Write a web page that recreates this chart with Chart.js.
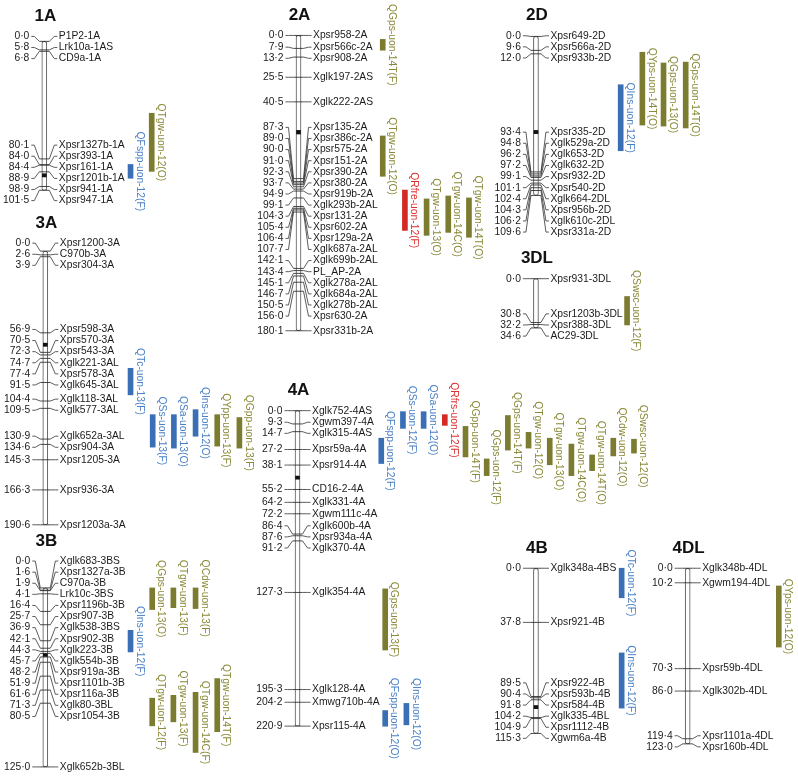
<!DOCTYPE html>
<html>
<head>
<meta charset="utf-8">
<script src="https://cdn.jsdelivr.net/npm/chart.js@4.4.0/dist/chart.umd.min.js"></script>
<style>
html, body { margin: 0; padding: 0; background: #fff; }
canvas { display: block; }
</style>
</head>
<body>
<canvas id="map" width="798" height="778"></canvas>
<script>
// marker positions (cM) and names for each linkage group
var pos1A = [0.0, 5.8, 6.8, 80.1, 84.0, 84.4, 88.9, 98.9, 101.5]
var mk1A = ['P1P2-1A', 'Lrk10a-1AS', 'CD9a-1A', 'Xpsr1327b-1A', 'Xpsr393-1A', 'Xpsr161-1A', 'Xpsr1201b-1A', 'Xpsr941-1A', 'Xpsr947-1A']

var pos2A = [0.0, 7.9, 13.2, 25.5, 40.5, 87.3, 89.0, 90.0, 91.0, 92.3, 93.7, 94.9, 99.1, 104.3, 105.4, 106.4, 107.7, 142.1, 143.4, 145.1, 146.7, 150.5, 156.0, 180.1]
var mk2A = ['Xpsr958-2A', 'Xpsr566c-2A', 'Xpsr908-2A', 'Xglk197-2AS', 'Xglk222-2AS', 'Xpsr135-2A', 'Xpsr386c-2A', 'Xpsr575-2A', 'Xpsr151-2A', 'Xpsr390-2A', 'Xpsr380-2A', 'Xpsr919b-2A', 'Xglk293b-2AL', 'Xpsr131-2A', 'Xpsr602-2A', 'Xpsr129a-2A', 'Xglk687a-2AL', 'Xglk699b-2AL', 'PL_AP-2A', 'Xglk278a-2AL', 'Xglk684a-2AL', 'Xglk278b-2AL', 'Xpsr630-2A', 'Xpsr331b-2A']

var pos2D = [0.0, 9.6, 12.0, 93.4, 94.8, 96.2, 97.2, 99.1, 101.1, 102.4, 104.3, 106.2, 109.6]
var mk2D = ['Xpsr649-2D', 'Xpsr566a-2D', 'Xpsr933b-2D', 'Xpsr335-2D', 'Xglk529a-2D', 'Xglk653-2D', 'Xglk632-2D', 'Xpsr932-2D', 'Xpsr540-2D', 'Xglk664-2DL', 'Xpsr956b-2D', 'Xglk610c-2DL', 'Xpsr331a-2D']

var pos3A = [0.0, 2.6, 3.9, 56.9, 70.5, 72.3, 74.7, 77.4, 91.5, 104.4, 109.5, 130.9, 134.6, 145.3, 166.3, 190.6]
var mk3A = ['Xpsr1200-3A', 'C970b-3A', 'Xpsr304-3A', 'Xpsr598-3A', 'Xprs570-3A', 'Xpsr543-3A', 'Xglk221-3AL', 'Xpsr578-3A', 'Xglk645-3AL', 'Xglk118-3AL', 'Xglk577-3AL', 'Xglk652a-3AL', 'Xpsr904-3A', 'Xpsr1205-3A', 'Xpsr936-3A', 'Xpsr1203a-3A']

var pos3DL = [0.0, 30.8, 32.2, 34.6]
var mk3DL = ['Xpsr931-3DL', 'Xpsr1203b-3DL', 'Xpsr388-3DL', 'AC29-3DL']

var pos3B = [0.0, 1.6, 1.9, 4.1, 16.4, 25.7, 36.9, 42.1, 44.3, 45.7, 48.2, 51.9, 61.6, 71.3, 80.5, 125.0]
var mk3B = ['Xglk683-3BS', 'Xpsr1327a-3B', 'C970a-3B', 'Lrk10c-3BS', 'Xpsr1196b-3B', 'Xpsr907-3B', 'Xglk538-3BS', 'Xpsr902-3B', 'Xglk223-3B', 'Xglk554b-3B', 'Xpsr919a-3B', 'Xpsr1101b-3B', 'Xpsr116a-3B', 'Xglk80-3BL', 'Xpsr1054-3B', 'Xglk652b-3BL']

var pos4A = [0.0, 9.3, 14.7, 27.2, 38.1, 55.2, 64.2, 72.2, 86.4, 87.6, 91.2, 127.3, 195.3, 204.2, 220.9]
var mk4A = ['Xglk752-4AS', 'Xgwm397-4A', 'Xglk315-4AS', 'Xpsr59a-4A', 'Xpsr914-4A', 'CD16-2-4A', 'Xglk331-4A', 'Xgwm111c-4A', 'Xglk600b-4A', 'Xpsr934a-4A', 'Xglk370-4A', 'Xglk354-4A', 'Xglk128-4A', 'Xmwg710b-4A', 'Xpsr115-4A']

var pos4B = [0.0, 37.8, 89.5, 90.4, 91.8, 104.2, 104.9, 115.3]
var mk4B = ['Xglk348a-4BS', 'Xpsr921-4B', 'Xpsr922-4B', 'Xpsr593b-4B', 'Xpsr584-4B', 'Xglk335-4BL', 'Xpsr1112-4B', 'Xgwm6a-4B']

var pos4DL = [0.0, 10.2, 70.3, 86.0, 119.4, 123.0]
var mk4DL = ['Xglk348b-4DL', 'Xgwm194-4DL', 'Xpsr59b-4DL', 'Xglk302b-4DL', 'Xpsr1101a-4DL', 'Xpsr160b-4DL']

// centromere marks (cM)
var cen1A = [91.3], cen2A = [59.0], cen2D = [65.9], cen3A = [65.2], cen3DL = []
var cen3B = [46.8], cen4A = [46.9], cen4B = [96.9], cen4DL = []

// QTL intervals
var qtlName = ['QFspp-uon-12(F)', 'QTgw-uon-12(O)',
  'QGps-uon-14T(F)', 'QTgw-uon-12(O)', 'QRfre-uon-12(F)', 'QTgw-uon-13(O)', 'QTgw-uon-14C(O)', 'QTgw-uon-14T(O)',
  'QIns-uon-12(F)', 'QYps-uon-14T(O)', 'QGps-uon-13(O)', 'QGps-uon-14T(O)',
  'QSwsc-uon-12(F)',
  'QTc-uon-13(F)', 'QSs-uon-13(F)', 'QSa-uon-13(O)', 'QIns-uon-12(O)', 'QYpp-uon-13(F)', 'QGpp-uon-13(F)',
  'QGps-uon-13(O)', 'QTgw-uon-13(F)', 'QCdw-uon-13(F)', 'QIns-uon-12(F)', 'QTgw-uon-12(F)', 'QTgw-uon-13(F)', 'QTgw-uon-14C(F)', 'QTgw-uon-14T(F)',
  'QFspp-uon-12(F)', 'QSs-uon-12(F)', 'QSa-uon-12(O)', 'QRfrs-uon-12(F)', 'QGpp-uon-14T(F)', 'QGps-uon-12(F)', 'QGps-uon-14T(F)', 'QTgw-uon-12(O)', 'QTgw-uon-13(O)', 'QTgw-uon-14C(O)', 'QTgw-uon-14T(O)', 'QCdw-uon-12(O)', 'QSwsc-uon-12(O)',
  'QGps-uon-13(F)', 'QFspp-uon-12(O)', 'QIns-uon-12(O)',
  'QTc-uon-12(F)', 'QIns-uon-12(F)',
  'QYps-uon-12(O)']
var qtlChrom = ['1A', '1A',
  '2A', '2A', '2A', '2A', '2A', '2A',
  '2D', '2D', '2D', '2D',
  '3DL',
  '3A', '3A', '3A', '3A', '3A', '3A',
  '3B', '3B', '3B', '3B', '3B', '3B', '3B', '3B',
  '4A', '4A', '4A', '4A', '4A', '4A', '4A', '4A', '4A', '4A', '4A', '4A', '4A',
  '4A', '4A', '4A',
  '4B', '4B',
  '4DL']
var qtlFrom = [83.9, 49.0,
  2.4, 61.3, 94.3, 99.7, 97.9, 99.1,
  33.3, 10.9, 18.3, 17.7,
  12.5,
  81.6, 113.9, 113.9, 110.4, 113.9, 115.9,
  0.0, 0.0, 0.0, 29.6, 77.0, 75.0, 72.9, 63.3,
  19.3, 0.7, 0.7, 2.8, 11.0, 33.8, 3.4, 15.2, 19.3, 23.4, 31.0, 19.3, 20.0,
  124.8, 210.0, 205.0,
  0.0, 59.1,
  12.4]
var qtlTo = [93.3, 88.6,
  9.0, 85.9, 118.9, 121.9, 120.1, 123.1,
  78.8, 61.1, 61.8, 63.1,
  32.5,
  100.1, 136.5, 137.2, 128.9, 135.8, 137.2,
  15.1, 13.8, 14.4, 44.7, 96.3, 93.5, 114.9, 100.4,
  37.0, 12.4, 12.4, 10.3, 32.4, 45.5, 27.6, 26.2, 37.9, 45.5, 42.0, 31.7, 29.7,
  167.6, 221.0, 220.0,
  20.6, 97.6,
  55.2]
// trait group: b = blue, o = olive, r = red
var qtlKind = ['b', 'o',
  'o', 'o', 'r', 'o', 'o', 'o',
  'b', 'o', 'o', 'o',
  'o',
  'b', 'b', 'b', 'b', 'o', 'o',
  'o', 'o', 'o', 'b', 'o', 'o', 'o', 'o',
  'b', 'b', 'b', 'r', 'o', 'o', 'o', 'o', 'o', 'o', 'o', 'o', 'o',
  'o', 'b', 'b',
  'b', 'b',
  'o']

// ---- layout (page pixels) ----
// chromosome: centre x, pixel of 0 cM, pixels per cM
var chromLayout = {
  '1A': [39, 36, 1.49],
  '2A': [297, 30, 1.665],
  '2D': [538, 31, 1.473],
  '3A': [40, 249, 1.458],
  '3DL': [538, 277, 1.445],
  '3B': [40, 591, 1.454],
  '4A': [296, 411, 1.45],
  '4B': [538, 571, 1.455],
  '4DL': [692, 571, 1.45]
}
var qtlX = [126.5, 148,
  382.5, 382.5, 405, 427, 449, 470,
  624, 646, 667.5, 690,
  630.5,
  126.5, 149, 170.5, 192.5, 214.5, 237,
  148.5, 170, 192.5, 126.5, 148.5, 170, 192.5, 214.5,
  381, 403, 424, 445.5, 466.5, 488, 509.5, 530.5, 552, 574, 595, 616.5, 637.5,
  385, 385, 406.5,
  625, 625,
  784.5]

var barColor = { b: '#3a6fb5', o: '#7c7c30', r: '#d42a26' }
var textColor = { b: '#4a80c6', o: '#8a8a3a', r: '#dc3030' }

var chroms = [
  { id: '1A', pos: pos1A, mk: mk1A, cen: cen1A },
  { id: '2A', pos: pos2A, mk: mk2A, cen: cen2A },
  { id: '2D', pos: pos2D, mk: mk2D, cen: cen2D },
  { id: '3A', pos: pos3A, mk: mk3A, cen: cen3A },
  { id: '3DL', pos: pos3DL, mk: mk3DL, cen: cen3DL },
  { id: '3B', pos: pos3B, mk: mk3B, cen: cen3B },
  { id: '4A', pos: pos4A, mk: mk4A, cen: cen4A },
  { id: '4B', pos: pos4B, mk: mk4B, cen: cen4B },
  { id: '4DL', pos: pos4DL, mk: mk4DL, cen: cen4DL }
]

var H = 778
var LABEL_GAP = 11.1
var FONT = '10.3px "Liberation Sans", Arial, sans-serif'

function fmt(v) {
  return v.toFixed(1).replace('.', '\u00b7')
}

// push overlapping labels apart, keeping each cluster centred
function spread(ys, gap) {
  var g = ys.map(function (y) { return { sum: y, n: 1 } })
  var merged = true
  while (merged) {
    merged = false
    for (var i = 0; i < g.length - 1; i++) {
      var a = g[i], b = g[i + 1]
      var aBot = a.sum / a.n + (a.n - 1) * gap / 2
      var bTop = b.sum / b.n - (b.n - 1) * gap / 2
      if (bTop - aBot < gap - 0.01) {
        g.splice(i, 2, { sum: a.sum + b.sum, n: a.n + b.n })
        merged = true
        break
      }
    }
  }
  var out = []
  g.forEach(function (c) {
    var top = c.sum / c.n - (c.n - 1) * gap / 2
    for (var j = 0; j < c.n; j++) out.push(top + j * gap)
  })
  return out
}

var scales = {
  x: { type: 'linear', min: 0, max: 798, offset: false, display: false }
}
var datasets = []

chroms.forEach(function (c) {
  var L = chromLayout[c.id]
  var yId = 'y' + c.id
  scales[yId] = {
    type: 'linear', reverse: true, display: false,
    min: -L[1] / L[2], max: (H - L[1]) / L[2]
  }
  var len = c.pos[c.pos.length - 1]
  // chromosome body
  datasets.push({
    type: 'bar', yAxisID: yId, grouped: false,
    data: [{ x: L[0], y: [0, len] }],
    barThickness: 5, backgroundColor: '#ffffff', borderColor: '#555555',
    borderWidth: 1, borderRadius: 3, borderSkipped: false, order: 3
  })
  // centromere
  if (c.cen.length) {
    datasets.push({
      type: 'bar', yAxisID: yId, grouped: false,
      data: c.cen.map(function (v) { return { x: L[0], y: [v - 1.1, v + 1.1] } }),
      barThickness: 4, backgroundColor: '#111111', borderWidth: 0, order: 2
    })
  }
  // marker ticks across the chromosome
  datasets.push({
    type: 'scatter', yAxisID: yId,
    data: c.pos.map(function (v) { return { x: L[0], y: v } }),
    pointStyle: 'line', radius: 5, hoverRadius: 5,
    borderColor: '#333333', borderWidth: 0.9, order: 1
  })
  // QTL bars on this chromosome
  var q = []
  var cols = []
  qtlName.forEach(function (n, i) {
    if (qtlChrom[i] !== c.id) return
    q.push({ x: qtlX[i], y: [qtlFrom[i], qtlTo[i]] })
    cols.push(barColor[qtlKind[i]])
  })
  if (q.length) {
    datasets.push({
      type: 'bar', yAxisID: yId, grouped: false, data: q,
      barThickness: 5, backgroundColor: cols, borderWidth: 0, order: 0
    })
  }
})

var labelPlugin = {
  id: 'mapLabels',
  afterDatasetsDraw: function (chart) {
    var ctx = chart.ctx
    var xs = chart.scales.x
    ctx.save()
    chroms.forEach(function (c) {
      var ys = chart.scales['y' + c.id]
      var cx = xs.getPixelForValue(chromLayout[c.id][0])
      var real = c.pos.map(function (v) { return ys.getPixelForValue(v) })
      var lab = spread(real, LABEL_GAP)

      // title
      ctx.fillStyle = '#111'
      ctx.font = 'bold 17px "Liberation Sans", Arial, sans-serif'
      ctx.textAlign = 'center'
      ctx.textBaseline = 'middle'
      ctx.fillText(c.id, cx + 1, Math.min(lab[0], real[0]) - 20)

      // connectors
      ctx.strokeStyle = '#333'
      ctx.lineWidth = 0.8
      real.forEach(function (my, i) {
        var ly = lab[i]
        ctx.beginPath()
        ctx.moveTo(cx - 13, ly)
        ctx.lineTo(cx - 10, ly)
        ctx.lineTo(cx - 5, my)
        ctx.moveTo(cx + 5, my)
        ctx.lineTo(cx + 10, ly)
        ctx.lineTo(cx + 13, ly)
        ctx.stroke()
      })

      // position and marker names
      ctx.font = FONT
      ctx.fillStyle = '#1a1a1a'
      c.pos.forEach(function (v, i) {
        ctx.textAlign = 'right'
        ctx.fillText(fmt(v), cx - 15, lab[i])
        ctx.textAlign = 'left'
        ctx.fillText(c.mk[i], cx + 14.5, lab[i])
      })
    })

    // QTL names, rotated
    ctx.font = FONT
    ctx.textAlign = 'center'
    ctx.textBaseline = 'middle'
    qtlName.forEach(function (n, i) {
      var ys = chart.scales['y' + qtlChrom[i]]
      var mid = (ys.getPixelForValue(qtlFrom[i]) + ys.getPixelForValue(qtlTo[i])) / 2
      var x = xs.getPixelForValue(qtlX[i]) + 9
      ctx.save()
      ctx.translate(x, mid)
      ctx.rotate(Math.PI / 2)
      ctx.fillStyle = textColor[qtlKind[i]]
      ctx.fillText(n, 0, 0)
      ctx.restore()
    })
    ctx.restore()
  }
}

new Chart(document.getElementById('map').getContext('2d'), {
  type: 'bar',
  data: { datasets: datasets },
  options: {
    responsive: false,
    maintainAspectRatio: false,
    animation: false,
    events: [],
    layout: { padding: 0 },
    scales: scales,
    plugins: {
      legend: { display: false },
      tooltip: { enabled: false },
      title: { display: false }
    }
  },
  plugins: [labelPlugin]
})
</script>
</body>
</html>
